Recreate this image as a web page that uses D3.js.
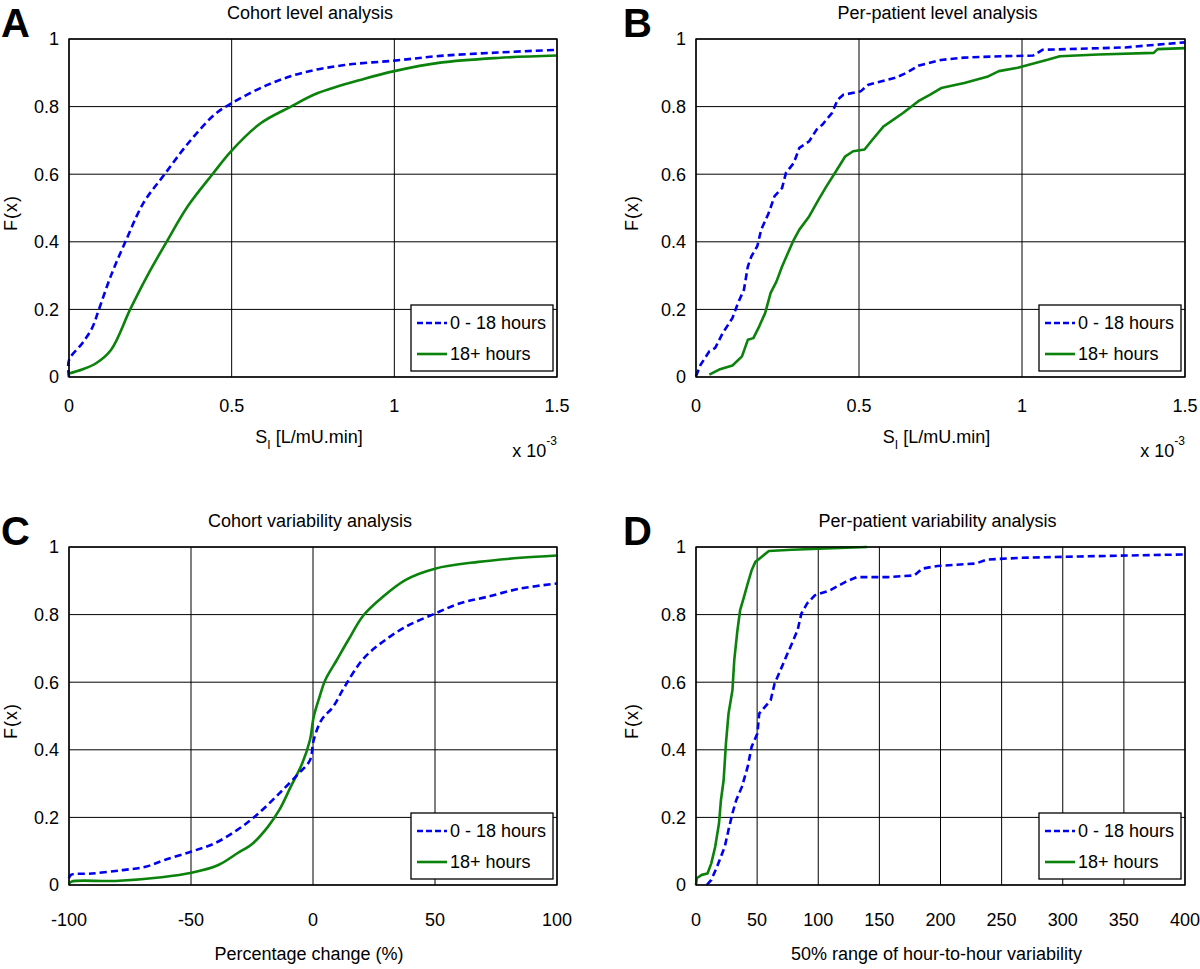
<!DOCTYPE html>
<html>
<head>
<meta charset="utf-8">
<script src="https://cdn.jsdelivr.net/npm/d3@7"></script>
<style>
  html, body { margin: 0; padding: 0; background: #fff; }
  svg { display: block; font-family: "Liberation Sans", Arial, Helvetica, sans-serif; }
</style>
</head>
<body>
<svg id="chart" width="1200" height="969"></svg>
<script>
// ---------------- DATA ----------------
const seriesNames = ["0 - 18 hours", "18+ hours"];
const yTicks = [0, 0.2, 0.4, 0.6, 0.8, 1];
const yTickLabels = ["0", "0.2", "0.4", "0.6", "0.8", "1"];
const siTicks = [0, 0.5, 1, 1.5];
const siTickLabels = ["0", "0.5", "1", "1.5"];
const pctTicks = [-100, -50, 0, 50, 100];
const rangeTicks = [0, 50, 100, 150, 200, 250, 300, 350, 400];

// Panel A: Cohort level analysis (x in 1e-3 L/mU.min)
const cohortLevelEarlyX = [0, 0, 0.041, 0.071, 0.092, 0.129, 0.176, 0.229, 0.294, 0.365, 0.447, 0.5, 0.612, 0.718, 0.847, 1.0, 1.141, 1.318, 1.5];
const cohortLevelEarlyY = [0, 0.05, 0.10, 0.145, 0.20, 0.30, 0.406, 0.515, 0.60, 0.69, 0.776, 0.81, 0.865, 0.90, 0.923, 0.936, 0.95, 0.96, 0.968];
const cohortLevelLateX = [0, 0.04, 0.082, 0.129, 0.188, 0.241, 0.30, 0.365, 0.441, 0.5, 0.588, 0.682, 0.765, 0.906, 1.0, 1.141, 1.318, 1.5];
const cohortLevelLateY = [0.01, 0.022, 0.04, 0.08, 0.20, 0.30, 0.40, 0.505, 0.60, 0.67, 0.75, 0.80, 0.84, 0.882, 0.905, 0.93, 0.944, 0.951];

// Panel B: Per-patient level analysis
const patientLevelEarlyX = [0, 0.014, 0.041, 0.059, 0.082, 0.112, 0.129, 0.147, 0.159, 0.170, 0.188, 0.200, 0.223, 0.241, 0.264, 0.276, 0.300, 0.317, 0.347, 0.370, 0.388, 0.417, 0.435, 0.452, 0.505, 0.529, 0.611, 0.646, 0.682, 0.752, 0.823, 0.940, 1.034, 1.063, 1.316, 1.41, 1.5];
const patientLevelEarlyY = [0.002, 0.036, 0.076, 0.086, 0.13, 0.175, 0.219, 0.258, 0.327, 0.357, 0.387, 0.436, 0.485, 0.535, 0.559, 0.604, 0.633, 0.678, 0.697, 0.732, 0.747, 0.781, 0.821, 0.835, 0.845, 0.865, 0.885, 0.90, 0.921, 0.938, 0.945, 0.949, 0.951, 0.968, 0.975, 0.983, 0.99];
const patientLevelLateX = [0.041, 0.071, 0.112, 0.141, 0.159, 0.176, 0.194, 0.212, 0.229, 0.247, 0.264, 0.282, 0.300, 0.317, 0.347, 0.376, 0.400, 0.429, 0.458, 0.482, 0.517, 0.541, 0.576, 0.599, 0.635, 0.682, 0.717, 0.752, 0.823, 0.893, 0.929, 0.987, 1.081, 1.116, 1.234, 1.404, 1.416, 1.5];
const patientLevelLateY = [0.007, 0.022, 0.034, 0.061, 0.11, 0.115, 0.15, 0.189, 0.249, 0.283, 0.327, 0.367, 0.406, 0.436, 0.475, 0.525, 0.564, 0.608, 0.653, 0.668, 0.673, 0.702, 0.742, 0.757, 0.781, 0.816, 0.835, 0.855, 0.870, 0.888, 0.905, 0.915, 0.939, 0.949, 0.954, 0.959, 0.970, 0.973];

// Panel C: Cohort variability analysis (percentage change)
const cohortVarEarlyX = [-100, -99.2, -90.6, -78, -68.6, -60.8, -49.8, -40.4, -31, -23.1, -13.8, -5.9, -1.25, 0.3, 3.45, 8.2, 12.9, 20.7, 28.5, 38, 50, 60, 71, 85, 100];
const cohortVarEarlyY = [0.02, 0.03, 0.034, 0.044, 0.054, 0.074, 0.099, 0.123, 0.163, 0.207, 0.271, 0.33, 0.369, 0.429, 0.488, 0.527, 0.586, 0.67, 0.719, 0.764, 0.803, 0.833, 0.852, 0.877, 0.892];
const cohortVarLateX = [-100, -99, -81, -62, -49.8, -38.8, -31, -24.7, -18.5, -13.8, -9.1, -4.4, -1.25, 0.3, 2.7, 5.0, 9.7, 14.4, 20.7, 28.5, 38, 50, 67.8, 85, 100];
const cohortVarLateY = [0.003, 0.01, 0.012, 0.023, 0.036, 0.059, 0.094, 0.123, 0.172, 0.222, 0.291, 0.36, 0.429, 0.498, 0.557, 0.606, 0.665, 0.724, 0.798, 0.852, 0.903, 0.936, 0.956, 0.968, 0.975];

// Panel D: Per-patient variability analysis (50% range)
const patientVarEarlyX = [8.8, 12.5, 17.2, 20.4, 23.5, 26.6, 29.8, 32.9, 37.6, 42.3, 45.5, 50.2, 51.7, 56.4, 61.1, 64.3, 69, 73.7, 78.4, 83.1, 86.2, 90.9, 97.2, 109.7, 122.3, 131.7, 156.7, 178.7, 185, 197.5, 228.8, 238.2, 266.5, 313.5, 400];
const patientVarEarlyY = [0, 0.015, 0.054, 0.084, 0.113, 0.163, 0.212, 0.251, 0.291, 0.35, 0.409, 0.448, 0.507, 0.527, 0.547, 0.596, 0.635, 0.675, 0.714, 0.754, 0.803, 0.833, 0.857, 0.872, 0.897, 0.911, 0.911, 0.916, 0.936, 0.944, 0.951, 0.963, 0.968, 0.972, 0.978];
const patientVarLateX = [0, 0.6, 4.7, 9.4, 12.5, 15.7, 18.8, 20.4, 22.6, 24.5, 26.6, 29.8, 31.3, 33.9, 36.1, 39.2, 42.3, 45.5, 48.6, 53.3, 59.6, 78.4, 100.3, 140];
const patientVarLateY = [0, 0.02, 0.03, 0.034, 0.064, 0.113, 0.182, 0.251, 0.31, 0.419, 0.507, 0.576, 0.665, 0.754, 0.813, 0.852, 0.892, 0.931, 0.956, 0.97, 0.988, 0.992, 0.995, 1.0];

// ---------------- DRAW ----------------
const svg = d3.select("#chart");
const BLUE = "#0000f0", GREEN = "#0b820b";
const zip = (xs, ys) => xs.map((x, i) => [x, ys[i]]);

const panels = [
  { letter: "A", title: "Cohort level analysis", box: [69, 557, 39, 377], domain: [0, 1.5], ticks: siTicks, tickLabels: siTickLabels, smooth: true,
    xlabel: "si", exp: true, early: zip(cohortLevelEarlyX, cohortLevelEarlyY), late: zip(cohortLevelLateX, cohortLevelLateY), tickDy: 35, labelDy: 66, ylabX: 17, letterX: 1 },
  { letter: "B", title: "Per-patient level analysis", box: [696, 1185, 39, 377], domain: [0, 1.5], ticks: siTicks, tickLabels: siTickLabels, smooth: false,
    xlabel: "si", exp: true, early: zip(patientLevelEarlyX, patientLevelEarlyY), late: zip(patientLevelLateX, patientLevelLateY), tickDy: 35, labelDy: 66, ylabX: 638, letterX: 623 },
  { letter: "C", title: "Cohort variability analysis", box: [69, 557, 547, 885], domain: [-100, 100], ticks: pctTicks, tickLabels: pctTicks.map(String), smooth: true,
    xlabel: "Percentage change (%)", exp: false, early: zip(cohortVarEarlyX, cohortVarEarlyY), late: zip(cohortVarLateX, cohortVarLateY), tickDy: 41, labelDy: 75, ylabX: 17, letterX: 1 },
  { letter: "D", title: "Per-patient variability analysis", box: [696, 1185, 547, 885], domain: [0, 400], ticks: rangeTicks, tickLabels: rangeTicks.map(String), smooth: false,
    xlabel: "50% range of hour-to-hour variability", exp: false, early: zip(patientVarEarlyX, patientVarEarlyY), late: zip(patientVarLateX, patientVarLateY), tickDy: 41, labelDy: 75, ylabX: 638, letterX: 623 }
];

panels.forEach(p => {
  const [x0, x1, y0, y1] = p.box;
  const x = d3.scaleLinear().domain(p.domain).range([x0, x1]);
  const y = d3.scaleLinear().domain([0, 1]).range([y1, y0]);
  const g = svg.append("g");
  const cx = (x0 + x1) / 2;

  // grid
  g.append("g").selectAll("line").data(p.ticks).join("line")
    .attr("x1", d => x(d)).attr("x2", d => x(d)).attr("y1", y0).attr("y2", y1)
    .attr("stroke", "#000").attr("stroke-width", 1);
  g.append("g").selectAll("line").data(yTicks).join("line")
    .attr("x1", x0).attr("x2", x1).attr("y1", d => y(d)).attr("y2", d => y(d))
    .attr("stroke", "#000").attr("stroke-width", 1);

  // curves
  const line = d3.line().x(d => x(d[0])).y(d => y(d[1]))
    .curve(p.smooth ? d3.curveCatmullRom.alpha(0.5) : d3.curveLinear);
  g.append("path").datum(p.late).attr("d", line).attr("fill", "none")
    .attr("stroke", GREEN).attr("stroke-width", 2.6).attr("stroke-linejoin", "round");
  g.append("path").datum(p.early).attr("d", line).attr("fill", "none")
    .attr("stroke", BLUE).attr("stroke-width", 2.6).attr("stroke-dasharray", "7,4");

  // frame
  g.append("rect").attr("x", x0).attr("y", y0).attr("width", x1 - x0).attr("height", y1 - y0)
    .attr("fill", "none").attr("stroke", "#000").attr("stroke-width", 1.4);

  // y tick labels
  g.append("g").selectAll("text").data(yTicks).join("text")
    .attr("x", x0 - 10).attr("y", d => y(d)).attr("dy", "0.35em")
    .attr("text-anchor", "end").attr("font-size", 18)
    .text((d, i) => yTickLabels[i]);

  // x tick labels
  g.append("g").selectAll("text").data(p.ticks).join("text")
    .attr("x", d => x(d)).attr("y", y1 + p.tickDy)
    .attr("text-anchor", "middle").attr("font-size", 18)
    .text((d, i) => p.tickLabels[i]);

  // title
  g.append("text").attr("x", cx - 3).attr("y", y0 - 20).attr("text-anchor", "middle")
    .attr("font-size", 18).text(p.title);

  // panel letter
  g.append("text").attr("x", p.letterX).attr("y", y0 - 2)
    .attr("font-size", 40).attr("font-weight", "bold").text(p.letter);

  // y label
  g.append("text").attr("transform", `translate(${p.ylabX},${(y0 + y1) / 2 + 5}) rotate(-90)`)
    .attr("text-anchor", "middle").attr("font-size", 18).attr("letter-spacing", 1).text("F(x)");

  // x label
  if (p.xlabel === "si") {
    const t = g.append("text").attr("x", cx - 4).attr("y", y1 + p.labelDy).attr("text-anchor", "middle").attr("font-size", 18);
    t.append("tspan").text("S");
    t.append("tspan").attr("font-size", 12).attr("dy", 6).text("I");
    t.append("tspan").attr("dy", -6).text(" [L/mU.min]");
  } else {
    g.append("text").attr("x", cx - 4).attr("y", y1 + p.labelDy).attr("text-anchor", "middle")
      .attr("font-size", 18).text(p.xlabel);
  }

  if (p.exp) {
    const t = g.append("text").attr("x", x1).attr("y", y1 + 80).attr("text-anchor", "end").attr("font-size", 18);
    t.append("tspan").text("x 10");
    t.append("tspan").attr("font-size", 12).attr("dy", -12).text("-3");
  }

  // legend
  const lx = x1 - 146, ly = y1 - 72;
  const lg = g.append("g");
  lg.append("rect").attr("x", lx).attr("y", ly).attr("width", 142).attr("height", 66)
    .attr("fill", "#fff").attr("stroke", "#000").attr("stroke-width", 1.3);
  const items = [{ name: seriesNames[0], color: BLUE, dash: "6,3" }, { name: seriesNames[1], color: GREEN, dash: null }];
  items.forEach((it, i) => {
    const yy = ly + 18 + i * 31;
    lg.append("line").attr("x1", lx + 6).attr("x2", lx + 36).attr("y1", yy).attr("y2", yy)
      .attr("stroke", it.color).attr("stroke-width", 2.6).attr("stroke-dasharray", it.dash);
    lg.append("text").attr("x", lx + 39).attr("y", yy).attr("dy", "0.35em")
      .attr("font-size", 18).text(it.name);
  });
});
</script>
</body>
</html>
